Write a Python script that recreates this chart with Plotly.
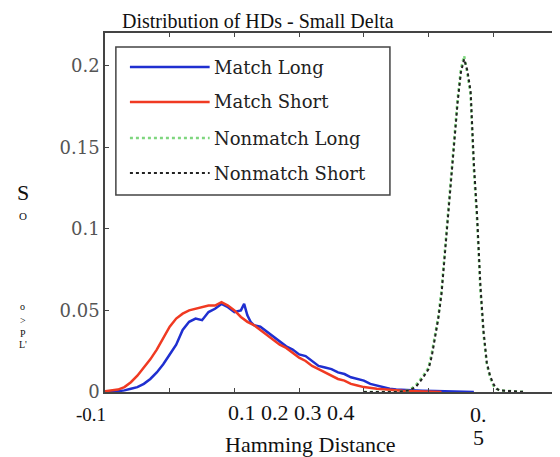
import plotly.graph_objects as go

# ---- data ----
match_long_hd = [0, 0.01, 0.02, 0.03, 0.04, 0.05, 0.06, 0.07, 0.08, 0.09, 0.10, 0.11, 0.12, 0.13,
                 0.14, 0.15, 0.16, 0.17, 0.18, 0.19, 0.20, 0.21, 0.215, 0.22, 0.225, 0.23, 0.24, 0.25,
                 0.26, 0.27, 0.28, 0.29, 0.30, 0.31, 0.32, 0.33, 0.34, 0.35, 0.36, 0.37, 0.38, 0.39,
                 0.40, 0.41, 0.42, 0.43, 0.44, 0.45, 0.47, 0.49, 0.51, 0.53, 0.55, 0.57]
match_long = [0, 0, 0.0005, 0.001, 0.002, 0.003, 0.005, 0.008, 0.012, 0.017, 0.023, 0.029, 0.038,
              0.043, 0.045, 0.044, 0.049, 0.051, 0.054, 0.052, 0.049, 0.050, 0.054, 0.047, 0.043,
              0.041, 0.040, 0.037, 0.034, 0.031, 0.028, 0.026, 0.023, 0.022, 0.019, 0.016, 0.015,
              0.014, 0.012, 0.011, 0.009, 0.008, 0.007, 0.005, 0.004, 0.003, 0.002, 0.0015, 0.001,
              0.0008, 0.0006, 0.0004, 0.0002, 0]

match_short_hd = [0, 0.01, 0.02, 0.03, 0.04, 0.05, 0.06, 0.07, 0.08, 0.09, 0.10, 0.11, 0.12, 0.13,
                  0.14, 0.15, 0.16, 0.17, 0.18, 0.19, 0.20, 0.21, 0.22, 0.23, 0.24, 0.25, 0.26, 0.27,
                  0.28, 0.29, 0.30, 0.31, 0.32, 0.33, 0.34, 0.35, 0.36, 0.37, 0.38, 0.39, 0.40, 0.42,
                  0.44, 0.46, 0.48, 0.50, 0.52]
match_short = [0.0005, 0.001, 0.0015, 0.003, 0.006, 0.010, 0.015, 0.020, 0.026, 0.033, 0.040, 0.045,
               0.048, 0.050, 0.051, 0.052, 0.053, 0.053, 0.055, 0.053, 0.050, 0.046, 0.043, 0.041,
               0.038, 0.035, 0.032, 0.029, 0.027, 0.024, 0.021, 0.019, 0.016, 0.014, 0.012, 0.010,
               0.008, 0.007, 0.005, 0.004, 0.003, 0.002, 0.0012, 0.0008, 0.0005, 0.0003, 0]

nonmatch_hd = [0.40, 0.45, 0.47, 0.48, 0.49, 0.50, 0.505, 0.51, 0.515, 0.52, 0.525, 0.53, 0.535,
               0.54, 0.545, 0.55, 0.555, 0.56, 0.565, 0.57, 0.575, 0.58, 0.585, 0.59, 0.595, 0.60,
               0.605, 0.61, 0.65]
nonmatch_long = [0, 0, 0.001, 0.004, 0.009, 0.015, 0.024, 0.035, 0.046, 0.062, 0.085, 0.112, 0.135,
                 0.155, 0.180, 0.198, 0.206, 0.195, 0.182, 0.136, 0.105, 0.063, 0.035, 0.017, 0.009,
                 0.004, 0.002, 0.001, 0]
nonmatch_short = [0, 0, 0.001, 0.003, 0.008, 0.014, 0.022, 0.033, 0.045, 0.060, 0.083, 0.110, 0.133,
                  0.153, 0.178, 0.196, 0.204, 0.197, 0.184, 0.140, 0.108, 0.066, 0.037, 0.018, 0.010,
                  0.005, 0.002, 0.001, 0]

y_ticks = [0, 0.05, 0.1, 0.15, 0.2]
y_tick_text = ["0", "0.05", "0.1", "0.15", "0.2"]
x_ticks = [0.1, 0.2, 0.3, 0.4, 0.5, 0.6]

names = ["Match Long", "Match Short", "Nonmatch Long", "Nonmatch Short"]
colors = ["#1f2fd0", "#f03a22", "#7fd67f", "#222222"]
dashes = ["solid", "solid", "dot", "dot"]
widths = [2.5, 2.5, 2.5, 2]

serif = "Liberation Serif"
tick_font = "DejaVu Serif"

series = [(match_long_hd, match_long), (match_short_hd, match_short),
          (nonmatch_hd, nonmatch_long), (nonmatch_hd, nonmatch_short)]

fig = go.Figure()
for (xs, ys), name, c, d, w in zip(series, names, colors, dashes, widths):
    fig.add_trace(go.Scatter(x=xs, y=ys, mode="lines", name=name,
                             line=dict(color=c, width=w, dash=d)))

axis_style = dict(showline=True, linecolor="#444", linewidth=1.5, mirror="ticks",
                  ticks="inside", ticklen=4, tickcolor="#444", showgrid=False, zeroline=False)

fig.update_xaxes(range=[0, 0.7], tickvals=x_ticks, showticklabels=False, **axis_style)
fig.update_yaxes(range=[0, 0.22], tickvals=y_ticks, ticktext=y_tick_text,
                 tickfont=dict(family=tick_font, size=18, color="#555"), **axis_style)

# matlab-style legend box drawn by hand (long line samples)
fig.add_shape(type="rect", xref="paper", yref="paper", x0=0.024, x1=0.629, y0=0.549, y1=0.961,
              line=dict(color="#444", width=1.5), fillcolor="white", layer="above")
legend_rows = [0.905, 0.808, 0.7075, 0.610]
for ly, name, c, d, w in zip(legend_rows, names, colors, dashes, widths):
    fig.add_shape(type="line", xref="paper", yref="paper", x0=0.055, x1=0.231, y0=ly, y1=ly,
                  line=dict(color=c, width=w, dash=d), layer="above")
    fig.add_annotation(text=name, x=0.236, y=ly, xref="paper", yref="paper", showarrow=False,
                       xanchor="left", yanchor="middle",
                       font=dict(family=tick_font, size=18, color="#222"))

# the page adds an 8px body margin, so the figure is 8px smaller each way
ann = [
    dict(text="Distribution of HDs - Small Delta", x=0.338, y=1.033, size=20),
    dict(text="-0.1", x=-0.031, y=-0.064, size=19),
    dict(text="0.1 0.2 0.3 0.4", x=0.411, y=-0.058, size=22),
    dict(text="0.", x=0.824, y=-0.064, size=22),
    dict(text="5", x=0.824, y=-0.128, size=22),
    dict(text="Hamming Distance", x=0.453, y=-0.145, size=22),
    dict(text="S", x=-0.180, y=0.557, size=22),
    dict(text="O", x=-0.180, y=0.49, size=11),
    dict(text="o", x=-0.182, y=0.237, size=10),
    dict(text=">", x=-0.182, y=0.198, size=10),
    dict(text="P", x=-0.182, y=0.164, size=10),
    dict(text="L'", x=-0.182, y=0.131, size=10),
]
for a in ann:
    fig.add_annotation(text=a["text"], x=a["x"], y=a["y"], xref="paper", yref="paper",
                       showarrow=False, xanchor="center", yanchor="middle",
                       font=dict(family=serif, size=a["size"], color="#111"))

fig.update_layout(
    width=552, height=449,
    margin=dict(l=97, r=0, t=25, b=65),
    paper_bgcolor="white", plot_bgcolor="white",
    showlegend=False,
)

fig.write_html("out.html")
